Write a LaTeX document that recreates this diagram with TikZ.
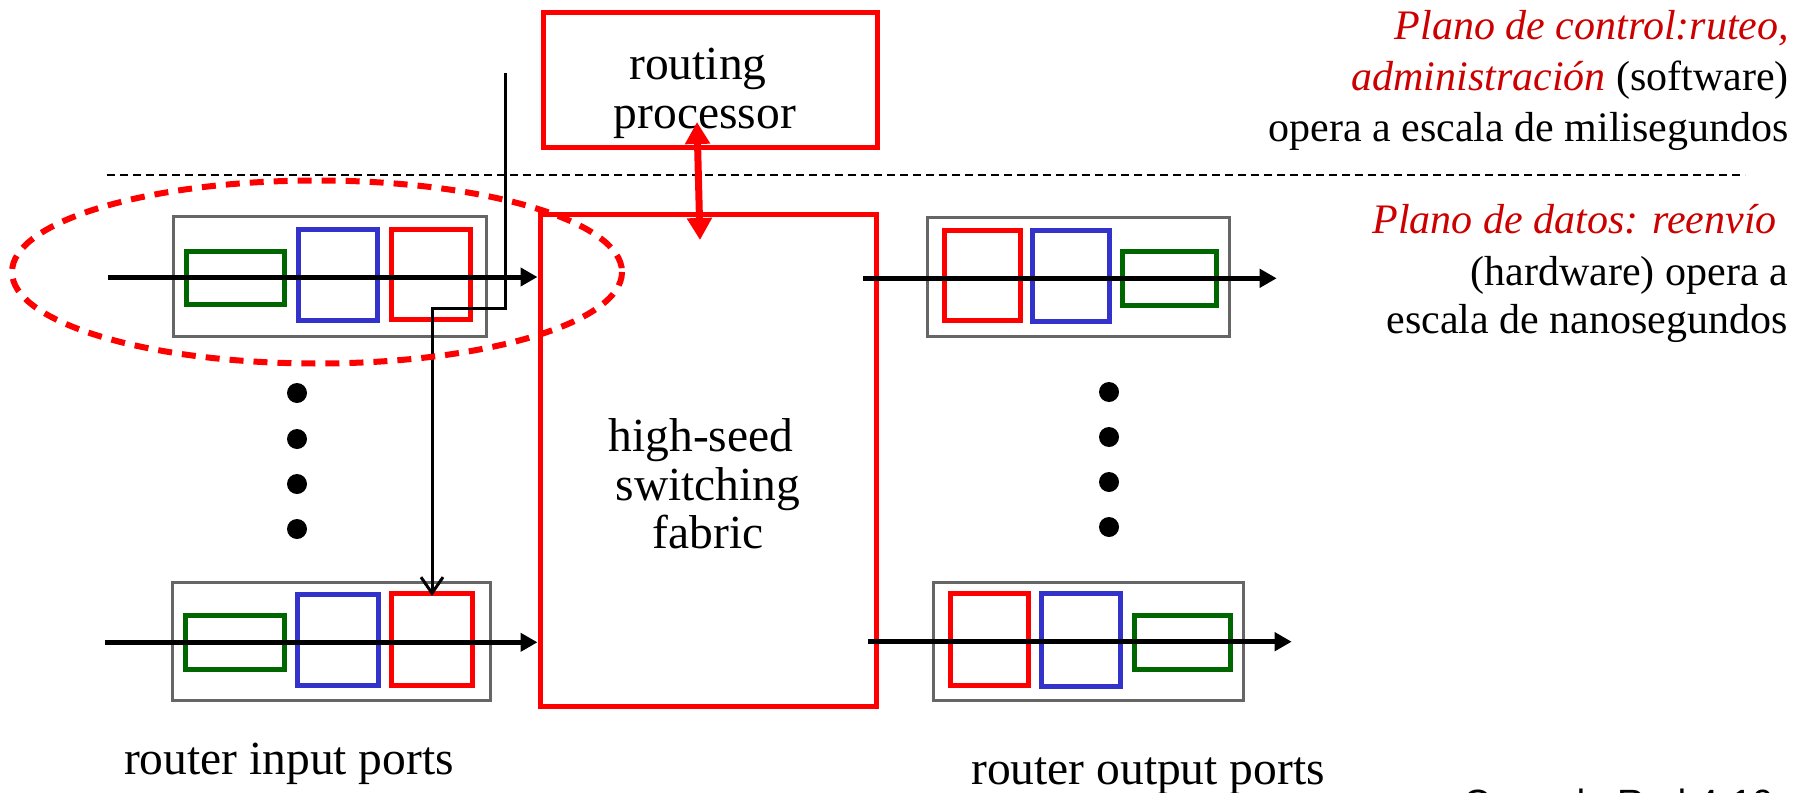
\documentclass[tikz,border=0pt]{standalone}
\usepackage{fontspec}
\setmainfont{Liberation Serif}
\setsansfont{Liberation Sans}
\usetikzlibrary{arrows.meta}
\definecolor{boxred}{RGB}{255,0,0}
\definecolor{txtred}{RGB}{204,0,0}
\definecolor{portgray}{RGB}{102,102,102}
\definecolor{qgreen}{RGB}{0,102,0}
\definecolor{qblue}{RGB}{51,51,204}
\tikzset{
  portbox/.style={draw=portgray, line width=3pt, inner sep=0pt, outer sep=0pt},
  qg/.style={draw=qgreen, line width=5pt, inner sep=0pt, outer sep=0pt},
  qb/.style={draw=qblue, line width=5pt, inner sep=0pt, outer sep=0pt},
  qr/.style={draw=boxred, line width=5pt, inner sep=0pt, outer sep=0pt},
  bigbox/.style={draw=boxred, line width=5pt, inner sep=0pt, outer sep=0pt},
  flow/.style={line width=5pt, -{Triangle[length=17pt,width=18pt]}},
  ctrl/.style={draw=boxred, line width=7pt, {Triangle[length=22pt,width=24pt]}-{Triangle[length=22pt,width=24pt]}},
  rtline/.style={line width=3pt, -{Straight Barb[length=16pt,width=22pt,line width=3pt]}},
  bigtxt/.style={font=\fontsize{47.5}{49}\selectfont, inner sep=0pt, anchor=base},
  sidetxt/.style={font=\fontsize{42}{50}\selectfont, inner sep=0pt, anchor=base east},
  dotmark/.style={circle, fill=black, inner sep=0pt, minimum size=20pt},
}
\begin{document}
\begin{tikzpicture}[x=1pt,y=-1pt]
\useasboundingbox (0,0) rectangle (1806,792);

% dashed divider
\draw[line width=1.5pt, dash pattern=on 8pt off 5pt] (107,175) -- (1745,175);

% main boxes
\node[bigbox, minimum width=334.5pt, minimum height=135pt] (rp) at (710.25,80) {};
\node[bigtxt] (rpt1) at (698,79) {routing};
\node[bigtxt] (rpt2) at (705,128) {processor};

\node[bigbox, minimum width=336.5pt, minimum height=491.5pt] (sf) at (708.25,460.25) {};
\node[bigtxt] (sft1) at (701,451) {high-seed};
\node[bigtxt] (sft2) at (708,500) {switching};
\node[bigtxt] (sft3) at (708,548) {fabric};

% input port 1
\node[portbox, minimum width=313.5pt, minimum height=119.5pt] (in1) at (329.75,276.25) {};
\node[qg, minimum width=98pt, minimum height=53pt] (in1g) at (235,277.5) {};
\node[qb, minimum width=78.5pt, minimum height=91pt] (in1b) at (337.75,274.5) {};
\node[qr, minimum width=79pt, minimum height=90.5pt] (in1r) at (430.5,274.25) {};
\coordinate (i1s) at (108,277);
\draw[flow] (i1s) -- ([xshift=-2.5pt]i1s -| sf.west);

% input port 2
\node[portbox, minimum width=317.3pt, minimum height=117.3pt] (in2) at (331.35,641.35) {};
\node[qg, minimum width=98.3pt, minimum height=54pt] (in2g) at (234.85,642) {};
\node[qb, minimum width=80.6pt, minimum height=91.7pt] (in2b) at (338,639.85) {};
\node[qr, minimum width=81pt, minimum height=91.7pt] (in2r) at (432.2,639.15) {};
\coordinate (i2s) at (105,642.3);
\draw[flow] (i2s) -- ([xshift=-2.5pt]i2s -| sf.west);

% output port 1
\node[portbox, minimum width=302pt, minimum height=119pt] (out1) at (1078.3,277.2) {};
\node[qr, minimum width=76.4pt, minimum height=90.7pt] (out1r) at (982.5,275.35) {};
\node[qb, minimum width=76.6pt, minimum height=91.7pt] (out1b) at (1071,275.85) {};
\node[qg, minimum width=94.4pt, minimum height=53.3pt] (out1g) at (1169.5,278.35) {};
\coordinate (o1s) at (863.3,278.3);
\coordinate (o1e) at (1276.7,278.3);
\draw[flow] (o1s) -- (o1e);

% output port 2
\node[portbox, minimum width=310pt, minimum height=117.7pt] (out2) at (1088.3,641.15) {};
\node[qr, minimum width=78.3pt, minimum height=91.7pt] (out2r) at (989.15,639.15) {};
\node[qb, minimum width=78.3pt, minimum height=92.7pt] (out2b) at (1080.85,639.65) {};
\node[qg, minimum width=96pt, minimum height=54pt] (out2g) at (1182,642) {};
\coordinate (o2s) at (868.3,641.7);
\coordinate (o2e) at (1291.7,641.7);
\draw[flow] (o2s) -- (o2e);

% control arrow
\coordinate (rpA) at (697,122);
\coordinate (sfA) at (700,240);
\draw[ctrl] (rpA) -- (sfA);

% routing table path
\coordinate (rtop) at (505.5,72.5);
\coordinate (rbend) at (432,308);
\draw[rtline] (rtop) |- (rbend) -- ([yshift=-2.5pt]rbend |- in2r.north);

% dashed ellipse
\draw[boxred, line width=6pt, dash pattern=on 14pt off 10pt] (317,272) ellipse [x radius=305, y radius=91.5];

% dots
\foreach \i/\y in {1/393,2/439,3/484,4/529} \node[dotmark] (ld\i) at (297,\y) {};
\foreach \i/\y in {1/392,2/437,3/482,4/527} \node[dotmark] (rd\i) at (1109,\y) {};

% labels
\node[bigtxt] (lin) at (289,774) {router input ports};
\node[bigtxt] (lout) at (1148,784) {router output ports};

% side text
\node[sidetxt, text=txtred] (s1) at (1789,40) {\itshape Plano de control:ruteo,};
\node[sidetxt] (s2) at (1789,90) {{\itshape\color{txtred}administración} (software)};
\node[sidetxt] (s3) at (1789,141) {opera a escala de milisegundos};
\node[sidetxt, text=txtred] (s4) at (1777,233) {\itshape Plano de datos: reenvío};
\node[sidetxt] (s5) at (1788,285) {(hardware) opera a};
\node[sidetxt] (s6) at (1788,333) {escala de nanosegundos};

% footer (cut off)
\node[font=\sffamily\fontsize{38}{40}\selectfont, inner sep=0pt, anchor=base west] (foot) at (1463,816) {Capa de Red 4-10};
\end{tikzpicture}
\end{document}
